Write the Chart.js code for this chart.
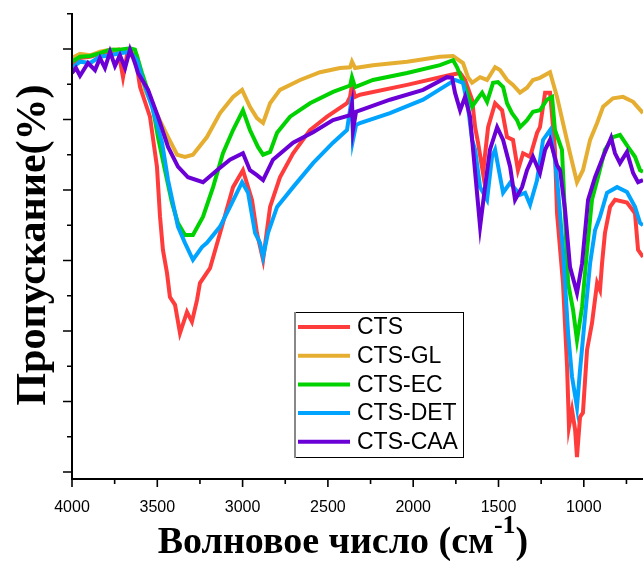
<!DOCTYPE html>
<html>
<head>
<meta charset="utf-8">
<script src="https://cdn.jsdelivr.net/npm/chart.js@4.4.1/dist/chart.umd.min.js"></script>
<style>
  html, body { margin: 0; padding: 0; background: #fff; }
  #wrap { width: 643px; height: 561px; }
</style>
</head>
<body>
<div id="wrap"><canvas id="ftir" width="643" height="561"></canvas></div>
<script>
// ===== Data: [wavenumber, transmittance] =====
const ctsData = [
  [4000,57.7],[3953,58.7],[3894,58.9],[3836,59.3],[3777,59.6],[3730,59.9],[3701,56.0],[3678,59.1],
  [3642,59.1],[3619,57.4],[3601,54.6],[3543,50.4],[3502,43.3],[3484,36.2],[3467,31.5],[3443,28.2],
  [3426,24.8],[3396,23.7],[3367,19.7],[3326,22.7],[3297,21.3],[3267,24.4],[3250,26.8],[3191,28.9],
  [3132,33.9],[3056,40.4],[2998,42.8],[2945,38.6],[2916,33.9],[2880,30.1],[2839,37.6],[2781,41.8],
  [2704,45.2],[2605,48.5],[2505,50.4],[2388,52.3],[2370,53.2],[2359,54.9],[2341,53.2],[2312,53.5],
  [2036,54.9],[1784,56.3],[1725,56.6],[1696,55.6],[1655,52.8],[1637,48.9],[1620,46.7],[1591,42.4],
  [1561,48.9],[1520,52.3],[1479,51.3],[1450,47.5],[1415,47.1],[1386,42.8],[1356,45.2],[1315,44.7],
  [1274,48.1],[1257,48.9],[1227,53.8],[1198,53.8],[1180,48.9],[1169,45.7],[1157,36.7],[1122,26.8],
  [1098,14.9],[1087,6.4],[1069,8.8],[1051,6.0],[1040,2.1],[1022,7.8],[1005,8.4],[981,17.3],
  [952,21.1],[922,26.8],[905,25.8],[893,29.6],[876,33.9],[846,37.6],[817,38.6],[747,38.2],
  [700,36.7],[682,31.5],[653,30.5]
];
const ctsGlData = [
  [4000,58.7],[3953,59.3],[3894,59.1],[3836,59.6],[3777,59.9],[3719,59.9],[3660,59.9],[3619,59.1],
  [3572,54.2],[3496,50.4],[3437,47.5],[3384,45.0],[3338,44.7],[3291,45.0],[3209,47.5],[3132,50.9],
  [3056,53.2],[3003,54.2],[2957,51.8],[2916,50.2],[2880,49.5],[2839,52.3],[2781,54.2],[2663,55.6],
  [2546,56.7],[2429,57.3],[2370,57.4],[2359,58.2],[2341,57.3],[2236,57.7],[2036,58.2],[1843,58.9],
  [1766,59.0],[1708,58.0],[1679,56.0],[1655,55.2],[1608,56.0],[1567,55.6],[1520,57.4],[1491,57.0],
  [1450,55.6],[1415,54.9],[1374,53.8],[1333,54.5],[1298,55.6],[1257,55.9],[1198,56.7],[1157,53.2],
  [1122,49.5],[1081,45.2],[1040,41.1],[1005,42.8],[963,47.1],[922,49.5],[887,51.8],[829,53.0],
  [770,53.2],[711,52.5],[653,50.9]
];
const ctsEcData = [
  [4000,58.2],[3953,58.9],[3894,59.0],[3836,59.4],[3777,59.9],[3719,59.9],[3660,60.1],[3631,59.9],
  [3590,56.6],[3531,52.3],[3496,47.5],[3455,42.8],[3414,38.2],[3379,35.3],[3338,33.6],[3291,33.6],
  [3232,36.2],[3173,40.4],[3115,45.2],[3056,48.5],[2998,51.3],[2957,48.5],[2910,46.1],[2880,45.0],
  [2839,45.4],[2798,48.1],[2722,50.4],[2605,52.3],[2470,53.9],[2370,54.8],[2359,56.0],[2341,54.6],
  [2236,55.6],[2036,56.6],[1843,57.7],[1766,58.4],[1743,57.4],[1713,55.6],[1684,53.8],[1655,51.8],
  [1626,52.8],[1596,53.8],[1567,52.5],[1532,55.2],[1503,55.3],[1473,54.6],[1450,52.3],[1421,50.9],
  [1391,49.9],[1374,48.9],[1333,49.9],[1298,51.1],[1257,51.3],[1216,52.8],[1186,53.2],[1169,48.5],
  [1128,45.7],[1110,36.2],[1092,26.8],[1063,23.0],[1040,18.7],[1010,23.4],[981,31.5],[952,38.6],
  [917,41.8],[876,45.7],[829,47.5],[788,47.8],[741,46.1],[700,44.7],[670,42.8],[653,42.6]
];
const ctsDetData = [
  [4000,57.3],[3953,58.2],[3894,58.0],[3836,58.9],[3777,59.1],[3719,59.4],[3660,59.6],[3619,58.4],
  [3590,56.0],[3531,51.8],[3472,46.7],[3437,41.4],[3379,34.8],[3338,32.5],[3291,30.1],[3238,31.9],
  [3209,32.5],[3132,34.8],[3074,37.6],[3003,41.1],[2968,39.6],[2927,33.9],[2898,32.5],[2880,30.5],
  [2851,33.9],[2798,37.6],[2704,40.4],[2587,43.8],[2470,46.7],[2388,48.5],[2359,53.2],[2353,47.1],
  [2335,49.2],[2312,49.5],[2136,50.9],[1942,52.8],[1802,54.9],[1755,55.6],[1708,55.2],[1679,51.8],
  [1655,47.1],[1637,45.7],[1608,40.4],[1567,38.6],[1538,44.7],[1520,45.7],[1473,39.6],[1432,41.0],
  [1374,39.3],[1344,39.6],[1315,37.9],[1274,41.4],[1239,47.1],[1198,48.5],[1169,44.3],[1151,40.0],
  [1122,31.5],[1092,19.7],[1069,13.5],[1040,9.2],[1022,14.5],[993,22.0],[963,29.6],[934,34.3],
  [905,36.2],[864,39.6],[805,40.4],[747,39.7],[700,37.6],[670,35.3],[653,35.0]
];
const ctsCaaData = [
  [4000,56.6],[3977,57.3],[3953,56.2],[3906,58.0],[3865,57.0],[3836,58.7],[3807,57.3],[3777,59.6],
  [3748,57.6],[3719,59.1],[3689,57.3],[3660,59.9],[3631,58.0],[3613,56.6],[3554,54.2],[3496,50.4],
  [3437,46.1],[3379,43.3],[3320,41.8],[3232,41.1],[3150,42.8],[3074,44.3],[2998,45.2],[2957,42.8],
  [2916,42.1],[2880,41.4],[2822,44.3],[2704,46.7],[2587,48.2],[2470,49.9],[2370,50.6],[2359,52.1],
  [2353,48.5],[2335,51.1],[2312,51.3],[2136,52.8],[1942,54.2],[1802,56.0],[1772,55.9],[1755,53.8],
  [1725,51.3],[1696,53.2],[1667,50.4],[1649,45.7],[1626,39.6],[1608,34.8],[1579,40.4],[1550,45.7],
  [1508,48.9],[1473,47.1],[1432,43.3],[1403,38.6],[1362,40.4],[1333,42.8],[1298,44.7],[1257,42.4],
  [1227,45.7],[1198,47.1],[1157,43.5],[1139,42.8],[1110,37.2],[1081,29.1],[1040,25.4],[1010,29.6],
  [975,38.6],[934,41.8],[887,44.7],[840,47.4],[817,45.2],[788,43.8],[747,45.4],[711,42.4],
  [682,41.1],[653,41.4]
];

const seriesNames = ["CTS", "CTS-GL", "CTS-EC", "CTS-DET", "CTS-CAA"];
const seriesColors = ["#ff3c3c", "#e6ae30", "#00d200", "#00a4ff", "#6a00d6"];

// ticks
const xLabels = [4000, 3500, 3000, 2500, 2000, 1500, 1000];
const xMinor = [3750, 3250, 2750, 2250, 1750, 1250, 750];
const yMajor = [0, 10, 20, 30, 40, 50, 60];
const yMinor = [5, 15, 25, 35, 45, 55, 65];

// ===== Plugin: axes, ticks, titles, legend =====
const decor = {
  id: "decor",
  afterDraw(chart) {
    const { ctx, chartArea: a, scales: { x, y } } = chart;
    ctx.save();
    ctx.strokeStyle = "#000";
    ctx.fillStyle = "#000";

    // axis lines
    ctx.lineWidth = 2;
    ctx.beginPath();
    ctx.moveTo(a.left, a.top);
    ctx.lineTo(a.left, a.bottom);
    ctx.lineTo(a.right, a.bottom);
    ctx.stroke();

    // tick marks
    ctx.lineWidth = 1.6;
    ctx.beginPath();
    yMajor.forEach(v => { const p = y.getPixelForValue(v); ctx.moveTo(a.left - 9, p); ctx.lineTo(a.left, p); });
    yMinor.forEach(v => { const p = y.getPixelForValue(v); ctx.moveTo(a.left - 5, p); ctx.lineTo(a.left, p); });
    xLabels.forEach(v => { const p = x.getPixelForValue(v); ctx.moveTo(p, a.bottom); ctx.lineTo(p, a.bottom + 8); });
    xMinor.forEach(v => { const p = x.getPixelForValue(v); ctx.moveTo(p, a.bottom); ctx.lineTo(p, a.bottom + 5); });
    ctx.stroke();

    // y title
    ctx.save();
    ctx.translate(45, 245);
    ctx.rotate(-Math.PI / 2);
    ctx.font = "bold 42px 'Liberation Serif'";
    ctx.textAlign = "center";
    ctx.textBaseline = "alphabetic";
    ctx.fillText("Пропускание(%)", 0, 0);
    ctx.restore();

    // x title with superscript
    const main = "Волновое число (см";
    ctx.font = "bold 38px 'Liberation Serif'";
    const wMain = ctx.measureText(main).width;
    ctx.font = "bold 26px 'Liberation Serif'";
    const wSup = ctx.measureText("-1").width;
    ctx.font = "bold 38px 'Liberation Serif'";
    const wClose = ctx.measureText(")").width;
    let tx = 343 - (wMain + wSup + wClose) / 2;
    const base = 553;
    ctx.textAlign = "left";
    ctx.fillText(main, tx, base);
    tx += wMain;
    ctx.font = "bold 26px 'Liberation Serif'";
    ctx.fillText("-1", tx, base - 20);
    tx += wSup;
    ctx.font = "bold 38px 'Liberation Serif'";
    ctx.fillText(")", tx, base);

    // legend box
    const lx = 294, ly = 312, lw = 169, lh = 145;
    ctx.lineWidth = 1;
    ctx.strokeStyle = "#000";
    ctx.strokeRect(lx + 0.5, ly + 0.5, lw, lh);
    ctx.strokeStyle = "#888";
    ctx.lineWidth = 2;
    ctx.beginPath();
    ctx.moveTo(lx + 1, ly);
    ctx.lineTo(lx + 1, ly + lh + 1);
    ctx.stroke();

    ctx.font = "23px 'Liberation Sans'";
    ctx.textBaseline = "middle";
    chart.data.datasets.forEach((ds, i) => {
      const cy = 327 + i * 28.7;
      ctx.strokeStyle = ds.borderColor;
      ctx.lineWidth = 4;
      ctx.beginPath();
      ctx.moveTo(298, cy);
      ctx.lineTo(350, cy);
      ctx.stroke();
      ctx.fillStyle = "#000";
      ctx.fillText(ds.label, 357, cy + 1);
    });
    ctx.restore();
  }
};

const datasets = [ctsData, ctsGlData, ctsEcData, ctsDetData, ctsCaaData].map((d, i) => ({
  label: seriesNames[i],
  data: d.map(([wn, t]) => ({ x: wn, y: t })),
  borderColor: seriesColors[i],
  borderWidth: 4,
  pointRadius: 0,
  tension: 0,
  fill: false,
  order: 4 - i
}));

const ctx = document.getElementById("ftir").getContext("2d");
new Chart(ctx, {
  type: "line",
  data: { datasets },
  options: {
    responsive: false,
    animation: false,
    devicePixelRatio: 1,
    layout: { padding: { top: 13, right: 0, left: 0, bottom: 0 } },
    plugins: { legend: { display: false }, tooltip: { enabled: false } },
    scales: {
      x: {
        type: "linear",
        reverse: true,
        min: 653,
        max: 4000,
        afterBuildTicks: s => { s.ticks = xLabels.map(v => ({ value: v })); },
        afterFit: s => { s.height = 82; },
        grid: { display: false, drawTicks: false },
        border: { display: false },
        ticks: {
          autoSkip: false,
          maxRotation: 0,
          padding: 19,
          color: "#000",
          font: { family: "'Liberation Sans'", size: 16 },
          callback: v => String(v)
        }
      },
      y: {
        min: -1,
        max: 65.1,
        afterFit: s => { s.width = 72; },
        grid: { display: false, drawTicks: false },
        border: { display: false },
        ticks: { display: false }
      }
    }
  },
  plugins: [decor]
});
</script>
</body>
</html>
